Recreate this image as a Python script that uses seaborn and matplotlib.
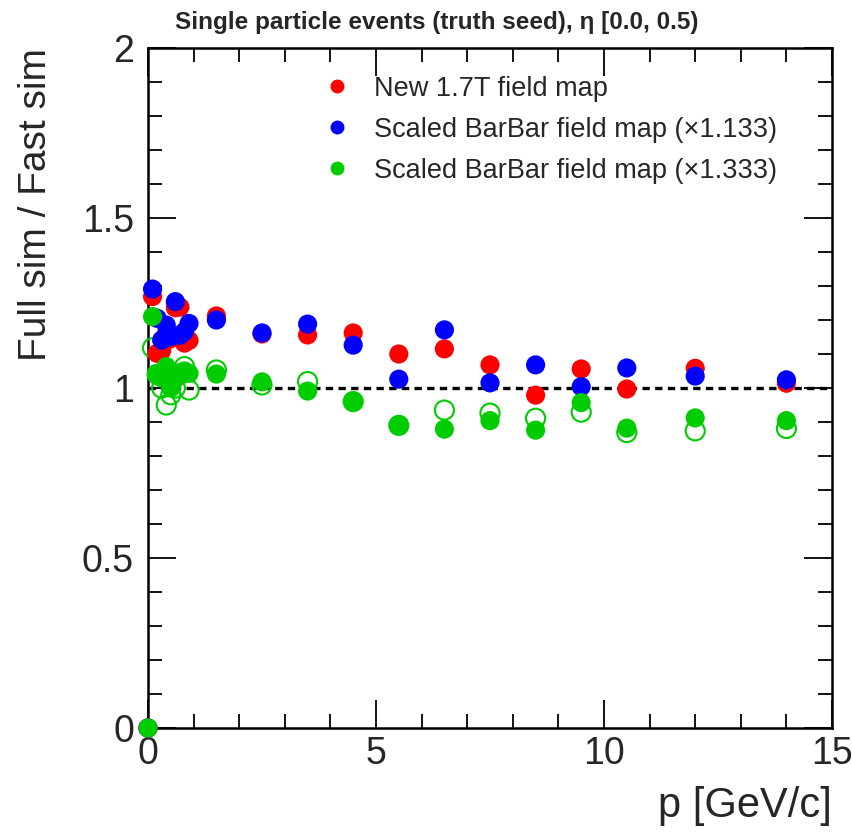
import numpy as np
import pandas as pd
import matplotlib
matplotlib.use("Agg")
import matplotlib.pyplot as plt
import seaborn as sns
from matplotlib.lines import Line2D
from matplotlib.ticker import MultipleLocator, FuncFormatter

# ---------------- data ----------------
p_vals = [0.0, 0.1, 0.2, 0.3, 0.4, 0.5, 0.6, 0.7, 0.8, 0.9,
          1.5, 2.5, 3.5, 4.5, 5.5, 6.5, 7.5, 8.5, 9.5, 10.5, 12.0, 14.0]

ratio_new17 = [0.0, 1.269, 1.102, 1.110, 1.160, 1.145, 1.236, 1.238, 1.132, 1.140,
               1.212, 1.159, 1.156, 1.162, 1.100, 1.115, 1.068, 0.979, 1.056, 0.997, 1.058, 1.014]
ratio_bb1133 = [0.0, 1.291, 1.205, 1.141, 1.185, 1.151, 1.254, 1.155, 1.166, 1.190,
                1.200, 1.162, 1.188, 1.126, 1.026, 1.171, 1.015, 1.068, 1.004, 1.059, 1.035, 1.024]
ratio_bb1333 = [0.0, 1.210, 1.043, 1.030, 1.063, 1.000, 1.038, 1.045, 1.050, 1.043,
                1.041, 1.018, 0.991, 0.960, 0.891, 0.879, 0.904, 0.876, 0.957, 0.882, 0.912, 0.904]
ratio_bb1333_open = [1.118, 1.040, 1.000, 0.950, 0.980, 1.000, 1.040, 1.063, 0.994,
                     1.053, 1.009, 1.019, 0.960, 0.890, 0.935, 0.926, 0.911, 0.929, 0.869, 0.874, 0.881]
p_open = p_vals[1:]

labels = ["New 1.7T field map",
          "Scaled BarBar field map (\u00d71.133)",
          "Scaled BarBar field map (\u00d71.333)"]
colors = ["#ff0000", "#0000ff", "#00cc00"]

x_ticks = [0, 5, 10, 15]
y_ticks = [0, 0.5, 1, 1.5, 2]

# ---------------- figure ----------------
sns.set_theme(style="white")
plt.rcParams["font.family"] = ["Liberation Sans", "DejaVu Sans"]

fig = plt.figure(figsize=(8.52, 8.33), dpi=100)
ax = fig.add_axes([148/852, 1-728/833, (832-148)/852, (728-48)/833])

ms = 190

df_open = pd.DataFrame({"p": p_open, "r": ratio_bb1333_open})
sns.scatterplot(data=df_open, x="p", y="r", ax=ax, s=ms, marker="o",
                facecolors="none", edgecolor=colors[2], linewidth=1.5,
                clip_on=False, zorder=3)

for vals, col in zip([ratio_new17, ratio_bb1133, ratio_bb1333], colors):
    d = pd.DataFrame({"p": p_vals, "r": vals})
    sns.scatterplot(data=d, x="p", y="r", ax=ax, s=ms, color=col,
                    edgecolor="none", linewidth=0, clip_on=False, zorder=4)

ax.plot([0, 15], [1, 1], color="black", linestyle=(0, (2.2, 1.6)), lw=2.4, zorder=2)

ax.set_xlim(0, 15)
ax.set_ylim(0, 2)
ax.set_xticks(x_ticks)
ax.set_yticks(y_ticks)
ax.xaxis.set_minor_locator(MultipleLocator(1))
ax.yaxis.set_minor_locator(MultipleLocator(0.1))
fmt = FuncFormatter(lambda v, pos: ("%g" % v))
ax.xaxis.set_major_formatter(fmt)
ax.yaxis.set_major_formatter(fmt)

ax.tick_params(which="both", direction="in", top=True, right=True,
               bottom=True, left=True, color="black", width=1.3)
ax.tick_params(which="major", length=20, labelsize=27, pad=10)
ax.tick_params(which="minor", length=10)
ax.tick_params(axis="x", which="major", pad=6)
for sp in ax.spines.values():
    sp.set_visible(True)
    sp.set_color("black")
    sp.set_linewidth(1.8)

ax.set_xlabel("p [GeV/c]", fontsize=30, loc="right", labelpad=10)
ax.set_ylabel("Full sim / Fast sim", fontsize=28, loc="top", labelpad=20)

handles = [Line2D([], [], marker="o", linestyle="none", markersize=10,
                  markerfacecolor=c, markeredgecolor="none") for c in colors]
leg = ax.legend(handles, labels, loc="upper left",
                bbox_to_anchor=((310-148)/684, (728-65)/680),
                frameon=False, fontsize=19.5, handletextpad=0.75,
                labelspacing=0.55, borderaxespad=0, handlelength=1.2)

fig.text(175/852, 1-22/833, "Single particle events (truth seed), \u03b7 [0.0, 0.5)",
         fontsize=17.5, fontweight="bold", ha="left", va="center")

fig.savefig("out.png", dpi=100)
